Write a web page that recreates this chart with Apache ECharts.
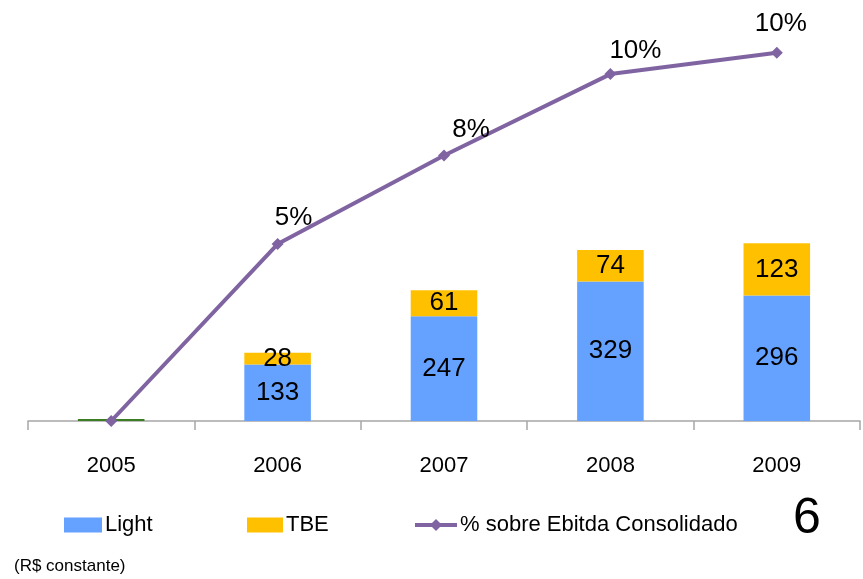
<!DOCTYPE html>
<html>
<head>
<meta charset="utf-8">
<script src="https://cdn.jsdelivr.net/npm/echarts@6/dist/echarts.min.js"></script>
<style>
  html, body { margin: 0; padding: 0; background: #fff; }
  #chart { width: 863px; height: 579px; }
</style>
</head>
<body>
<div id="chart"></div>
<script>
let years = ['2005', '2006', '2007', '2008', '2009'];
let light = [5, 133, 247, 329, 296];
let tbe = [0, 28, 61, 74, 123];
let pctEbitda = [0, 5.0, 7.5, 9.8, 10.4];

let chart = echarts.init(document.getElementById('chart'));
let font = '"Liberation Sans", Arial, sans-serif';
let legendText = { fontSize: 22, color: '#000', fontFamily: font, padding: [0, 0, 0, -2] };

// manual label nudges, like in the original slide
let pctLabelOffset = [[0, 0], [16, 0], [27, 0], [25, 3], [4, -3]];

let option = {
  backgroundColor: '#ffffff',
  animation: false,
  textStyle: { fontFamily: font },
  grid: { left: 28, right: 3, top: 21, bottom: 158 },
  legend: [
    {
      left: 64, top: 514, padding: 0, itemWidth: 38, itemHeight: 15, icon: 'rect',
      textStyle: legendText,
      data: ['Light']
    },
    {
      left: 247, top: 514, padding: 0, itemWidth: 36, itemHeight: 15, icon: 'rect',
      textStyle: legendText,
      data: ['TBE']
    },
    {
      left: 413, top: 514, padding: 0, itemWidth: 42, itemHeight: 15,
      lineStyle: { width: 4 },
      textStyle: legendText,
      data: ['% sobre Ebitda Consolidado']
    }
  ],
  xAxis: {
    type: 'category',
    data: years,
    axisLine: { lineStyle: { color: '#a6a6a6', width: 1.5 } },
    axisTick: { show: true, alignWithLabel: false, length: 9, lineStyle: { color: '#a6a6a6', width: 1.5 } },
    axisLabel: { fontSize: 22, color: '#000', margin: 34, fontFamily: font }
  },
  yAxis: [
    { type: 'value', min: 0, max: 943, show: false, splitLine: { show: false } },
    { type: 'value', min: 0, max: 11.3, show: false, splitLine: { show: false } }
  ],
  series: [
    {
      name: 'Light',
      type: 'bar',
      stack: 'total',
      barWidth: '40%',
      itemStyle: { color: '#65a2ff' },
      label: { show: true, position: 'inside', fontSize: 26, color: '#000', fontFamily: font },
      data: light.map(function (v, i) {
        if (i === 0) {
          return { value: v, itemStyle: { color: '#3a7d22' }, label: { show: false } };
        }
        return v;
      })
    },
    {
      name: 'TBE',
      type: 'bar',
      stack: 'total',
      barWidth: '40%',
      itemStyle: { color: '#ffc000' },
      label: {
        show: true, position: 'inside', fontSize: 26, color: '#000', fontFamily: font,
        formatter: function (p) { return p.value ? p.value : ''; }
      },
      labelLayout: { hideOverlap: false },
      data: tbe
    },
    {
      name: '% sobre Ebitda Consolidado',
      type: 'line',
      yAxisIndex: 1,
      symbol: 'diamond',
      symbolSize: 12,
      z: 5,
      lineStyle: { color: '#8064a2', width: 4 },
      itemStyle: { color: '#8064a2' },
      label: {
        show: true, position: 'top', distance: 7, fontSize: 26, color: '#000', fontFamily: font,
        formatter: function (p) { return p.dataIndex === 0 ? '' : Math.round(p.value) + '%'; }
      },
      data: pctEbitda.map(function (v, i) {
        return { value: v, label: { offset: pctLabelOffset[i] } };
      })
    }
  ],
  graphic: [
    {
      type: 'text', left: 793, top: 494,
      style: { text: '6', fontSize: 50, fill: '#000', fontFamily: font }
    },
    {
      type: 'text', left: 14, top: 558,
      style: { text: '(R$ constante)', fontSize: 17, fill: '#000', fontFamily: font }
    }
  ]
};

chart.setOption(option);
</script>
</body>
</html>
